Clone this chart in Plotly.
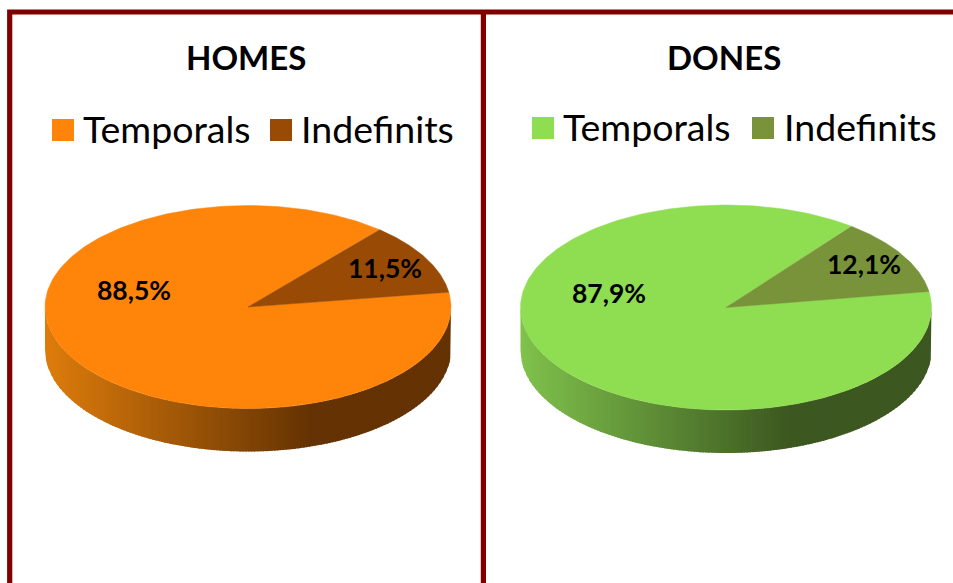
import numpy as np
import plotly.graph_objects as go

# ---- data ----
panel_titles = ["HOMES", "DONES"]
categories = ["Temporals", "Indefinits"]
homes_values = [88.5, 11.5]
dones_values = [87.9, 12.1]

# ---- styling ----
homes_colors = ["#FF850A", "#994B05"]
dones_colors = ["#8FDD50", "#78933A"]
homes_wall = [(222, 125, 12), (100, 50, 3)]
dones_wall = [(128, 194, 76), (60, 87, 32)]
border = "#800000"
FONT = "Lato"

W, H = 953, 583
panels = [
    dict(title=panel_titles[0], values=homes_values, colors=homes_colors, wall=homes_wall,
         cx=248, cy=307, rx=203, ry=101.5, depth=43, start=8.4,
         title_xy=(245.5, 57), swatches=[(63, 130), (281, 130)], texts=[(81, 128), (299, 128)],
         labels=[(134, 290), (385, 268)]),
    dict(title=panel_titles[1], values=dones_values, colors=dones_colors, wall=dones_wall,
         cx=726, cy=307.5, rx=205.5, ry=102.5, depth=43, start=9.0,
         title_xy=(723.5, 57), swatches=[(543, 128), (763, 128)], texts=[(561, 126), (781.5, 126)],
         labels=[(609, 293), (864, 264)]),
]

fig = go.Figure()
annotations = []


def txt(x, y, text, size, bold=False, anchor="center"):
    annotations.append(dict(x=x, y=y, xref="x", yref="y", text=text, showarrow=False,
                            xanchor=anchor, yanchor="middle",
                            font=dict(family=FONT, size=size, color="#000000",
                                      weight=700 if bold else 400)))


for p in panels:
    cx, cy, rx, ry, d = p["cx"], p["cy"], p["rx"], p["ry"], p["depth"]
    # cylinder wall: narrow strips shaded left to right, each overlapping the next
    edges = np.linspace(-rx, rx, 141)
    c0, c1 = p["wall"]
    for a, b in zip(edges[:-1], edges[1:]):
        xs = np.linspace(a, min(b + 1.5, rx), 5)
        top = cy + ry * np.sqrt(np.clip(1 - (xs / rx) ** 2, 0, 1))
        f = min(((a + b) / 2 + rx) / (2 * rx) / 0.66, 1)
        col = "rgb(%d,%d,%d)" % tuple(c0[i] + (c1[i] - c0[i]) * f for i in range(3))
        fig.add_trace(go.Scatter(
            x=np.r_[cx + xs, cx + xs[::-1]], y=np.r_[top, top[::-1] + d],
            mode="lines", fill="toself", fillcolor=col, line=dict(width=0),
            hoverinfo="skip", showlegend=False))
    # top face: sectors swept clockwise from the values
    ang = p["start"]
    total = sum(p["values"])
    for name, v, col in zip(categories, p["values"], p["colors"]):
        sweep = 360 * v / total
        t = np.radians(np.linspace(ang, ang - sweep, 240))
        fig.add_trace(go.Scatter(
            x=np.r_[cx, cx + rx * np.cos(t), cx], y=np.r_[cy, cy - ry * np.sin(t), cy],
            mode="lines", fill="toself", fillcolor=col, line=dict(color=col, width=0.5),
            name=name, hoverinfo="name", showlegend=False))
        ang -= sweep
    # legend swatches and texts
    fig.add_trace(go.Scatter(
        x=[s[0] for s in p["swatches"]], y=[s[1] for s in p["swatches"]], mode="markers",
        marker=dict(symbol="square", size=22, color=p["colors"], line=dict(width=0)),
        hoverinfo="skip", showlegend=False))
    for name, (tx, ty) in zip(categories, p["texts"]):
        txt(tx, ty, name, 37.5, anchor="left")
    txt(p["title_xy"][0], p["title_xy"][1], p["title"], 33, bold=True)
    for v, (lx, ly) in zip(p["values"], p["labels"]):
        txt(lx, ly, f"{v:.1f}%".replace(".", ","), 26.5, bold=True)

shapes = [
    dict(type="path", xref="x", yref="y", path=f"M 9.7 {H} L 9.7 12 L {W} 12",
         line=dict(color=border, width=5.2), layer="above"),
    dict(type="line", xref="x", yref="y", x0=483.4, x1=483.4, y0=12, y1=H,
         line=dict(color=border, width=5.2), layer="above"),
]

fig.update_layout(
    width=W, height=H, margin=dict(l=0, r=0, t=0, b=0),
    paper_bgcolor="white", plot_bgcolor="white", showlegend=False,
    xaxis=dict(range=[0, W], visible=False, fixedrange=True),
    yaxis=dict(range=[H, 0], visible=False, fixedrange=True),
    shapes=shapes, annotations=annotations,
)
fig.write_html("out.html", config=dict(displayModeBar=False),
               post_script="document.body.style.margin='0';document.body.style.overflow='hidden';")
